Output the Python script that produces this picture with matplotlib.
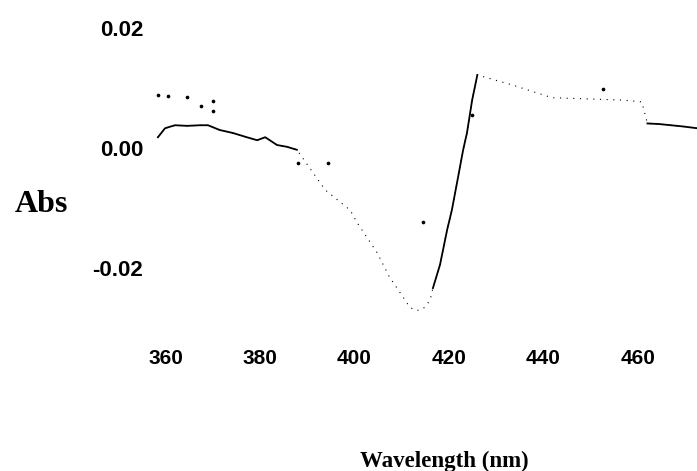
import numpy as np
import matplotlib.pyplot as plt

# main difference spectrum trace
wavelength = [358.4, 359.9, 362.0, 364.6, 367.3, 369.0, 371.5, 374.3, 377.2, 379.4,
              381.1, 383.6, 385.7, 387.8, 393.8, 399.1, 400.5, 404.8, 407.5, 409.0,
              410.7, 411.7, 412.8, 413.8, 414.9, 416.0, 416.6, 418.1, 419.6, 420.6,
              421.7, 423.0, 423.8, 424.9, 426.0, 433.5, 441.8, 456.8, 460.8, 462.0,
              464.5, 467.0, 469.5, 472.5]
absorb = [0.0018, 0.0033, 0.0038, 0.0037, 0.0038, 0.0038, 0.0030, 0.0025, 0.0018, 0.0013,
          0.0018, 0.0005, 0.0002, -0.0003, -0.0070, -0.0104, -0.0124, -0.0175, -0.0217, -0.0234,
          -0.0254, -0.0266, -0.0271, -0.0271, -0.0266, -0.0254, -0.0234, -0.0195, -0.0137, -0.0104,
          -0.0058, -0.0003, 0.0025, 0.0080, 0.0122, 0.0105, 0.0084, 0.0080, 0.0077, 0.0041,
          0.0040, 0.0038, 0.0036, 0.0033]

# stray specks on the scan
stray_wl = [358.4, 360.5, 364.6, 367.5, 370.0, 370.0, 388.0, 394.4, 414.5, 424.9, 452.6]
stray_abs = [0.0089, 0.0087, 0.0085, 0.0070, 0.0079, 0.0062, -0.0025, -0.0025, -0.0124, 0.0055, 0.0099]

xticks = [360, 380, 400, 420, 440, 460]
yticks = [-0.02, 0.00, 0.02]

wl = np.array(wavelength)
ab = np.array(absorb)

fig = plt.figure(figsize=(6.97, 4.71), dpi=100)
ax = fig.add_axes([150 / 697, 1 - 320 / 471, 547 / 697, 300 / 471])

# sparse dotted trace, then the dense solid bits on top
ax.plot(wl, ab, color='black', lw=0.8, ls=(0, (1, 5)))
for lo, hi in [(358, 388), (416.5, 427), (461.5, 475)]:
    m = (wl >= lo) & (wl <= hi)
    ax.plot(wl[m], ab[m], color='black', lw=1.3)
ax.scatter(stray_wl, stray_abs, s=7, color='black', lw=0)

ax.set_xlim(356.72, 472.49)
ax.set_ylim(-0.02873, 0.02138)
ax.set_xticks(xticks)
ax.set_yticks(yticks)
ax.set_yticklabels(['-0.02', '0.00', '0.02'])
for s in ax.spines.values():
    s.set_visible(False)
ax.tick_params(axis='x', length=0, pad=21)
ax.tick_params(axis='y', length=0, pad=5)
for lab in ax.get_xticklabels():
    lab.set_fontfamily('Liberation Sans')
    lab.set_fontweight('bold')
    lab.set_fontsize(15)
for lab in ax.get_yticklabels():
    lab.set_fontfamily('Liberation Sans')
    lab.set_fontweight('bold')
    lab.set_fontsize(16)

fig.text(15 / 697, 1 - 205 / 471, 'Abs', family='Liberation Serif', weight='bold',
         fontsize=23, ha='left', va='center')
fig.text(444 / 697, 1 - 461 / 471, 'Wavelength (nm)', family='Liberation Serif',
         weight='bold', fontsize=16.5, ha='center', va='center')

fig.savefig('out.png', dpi=100)
